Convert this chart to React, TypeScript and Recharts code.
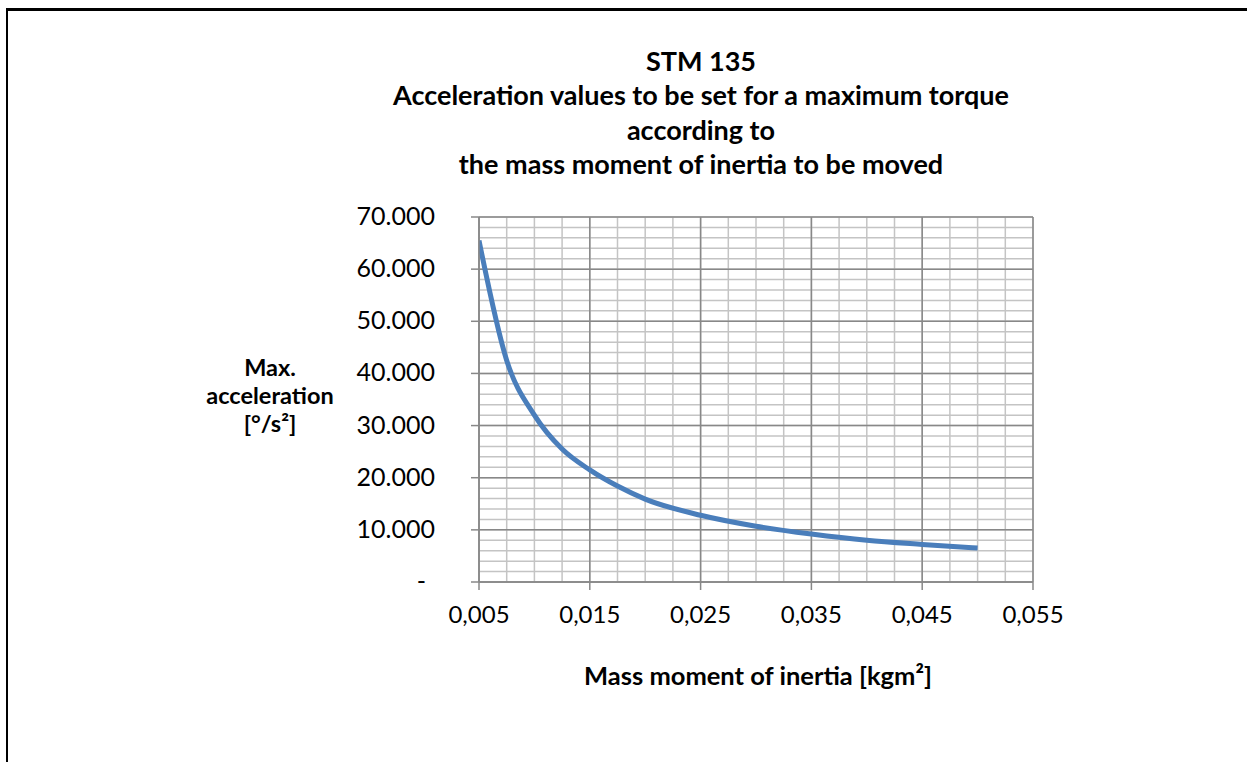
import React from 'react';
import { LineChart, Line, XAxis, YAxis, CartesianGrid } from 'recharts';

const inertia = [0.005, 0.0075, 0.01, 0.0125, 0.015, 0.0175, 0.02, 0.025, 0.03, 0.035, 0.04, 0.045, 0.05];
const acceleration = [65500, 42500, 32000, 25500, 21500, 18400, 15900, 12800, 10700, 9200, 8000, 7200, 6500];

const xTicks = [0.005, 0.015, 0.025, 0.035, 0.045, 0.055];
const yTicks = [0, 10000, 20000, 30000, 40000, 50000, 60000, 70000];
const xMinor = [0.005, 0.0075, 0.01, 0.0125, 0.015, 0.0175, 0.02, 0.0225, 0.025, 0.0275, 0.03, 0.0325, 0.035, 0.0375, 0.04, 0.0425, 0.045, 0.0475, 0.05, 0.0525, 0.055];
const yMinor = [0, 2000, 4000, 6000, 8000, 10000, 12000, 14000, 16000, 18000, 20000, 22000, 24000, 26000, 28000, 30000, 32000, 34000, 36000, 38000, 40000, 42000, 44000, 46000, 48000, 50000, 52000, 54000, 56000, 58000, 60000, 62000, 64000, 66000, 68000, 70000];

const data = inertia.map((x, i) => ({ x, y: acceleration[i] }));

const font = 'Lato, "Open Sans", sans-serif';

const fmtY = (v: number) => (v === 0 ? '-' : (v / 1000).toFixed(3));
const fmtX = (v: number) => v.toFixed(3).replace('.', ',');

const YTick = (props: any) => {
  const { x, y, payload } = props;
  const isZero = payload.value === 0;
  return (
    <text x={isZero ? x - 9 : x} y={y} dy={8} textAnchor="end" fill="#000" fontSize={25} fontFamily={font}>
      {fmtY(payload.value)}
    </text>
  );
};

const App = () => {
  return (
    <div style={{ position: 'absolute', left: 0, top: 0, width: 1247, height: 762, background: '#fff', fontFamily: font }}>
      <div style={{ position: 'absolute', left: 6, top: 8, width: 1241, height: 754, borderLeft: '2px solid #000', borderTop: '3px solid #000' }} />
      <div style={{ position: 'absolute', left: 301, top: 44, width: 800, textAlign: 'center', fontWeight: 'bold', fontSize: 27, lineHeight: '34.3px' }}>
        <div>STM 135</div>
        <div>Acceleration values to be set for a maximum torque</div>
        <div>according to</div>
        <div>the mass moment of inertia to be moved</div>
      </div>
      <div style={{ position: 'absolute', left: 170, top: 353, width: 200, textAlign: 'center', fontWeight: 'bold', fontSize: 23.5, lineHeight: '28px' }}>
        <div>Max.</div>
        <div>acceleration</div>
        <div>[°/s²]</div>
      </div>
      <div style={{ position: 'absolute', left: 508, top: 659, width: 500, textAlign: 'center', fontWeight: 'bold', fontSize: 25.5, lineHeight: '32px' }}>
        Mass moment of inertia [kgm²]
      </div>
      <div style={{ position: 'absolute', left: 0, top: 0 }}>
        <LineChart width={1247} height={762} data={data} margin={{ top: 217, right: 214, bottom: 120, left: 379 }}>
          <CartesianGrid stroke="#c4c4c4" strokeWidth={1.5} verticalValues={xMinor} horizontalValues={yMinor} />
          <CartesianGrid stroke="#888888" strokeWidth={1.5} verticalValues={xTicks} horizontalValues={yTicks} />
          <XAxis
            dataKey="x"
            type="number"
            domain={[0.005, 0.055]}
            ticks={xTicks}
            tickFormatter={fmtX}
            stroke="#888888"
            strokeWidth={1.5}
            tickSize={8}
            tickMargin={16}
            height={60}
            tick={{ fill: '#000', fontSize: 24, fontFamily: font }}
            interval={0}
            allowDataOverflow
          />
          <YAxis
            dataKey="y"
            type="number"
            domain={[0, 70000]}
            ticks={yTicks}
            stroke="#888888"
            strokeWidth={1.5}
            tickSize={8}
            tickMargin={36}
            width={100}
            tick={<YTick />}
            interval={0}
          />
          <Line
            type="monotone"
            dataKey="y"
            stroke="#4a7ebb"
            strokeWidth={5}
            dot={false}
            isAnimationActive={false}
          />
        </LineChart>
      </div>
    </div>
  );
};

export default App;
